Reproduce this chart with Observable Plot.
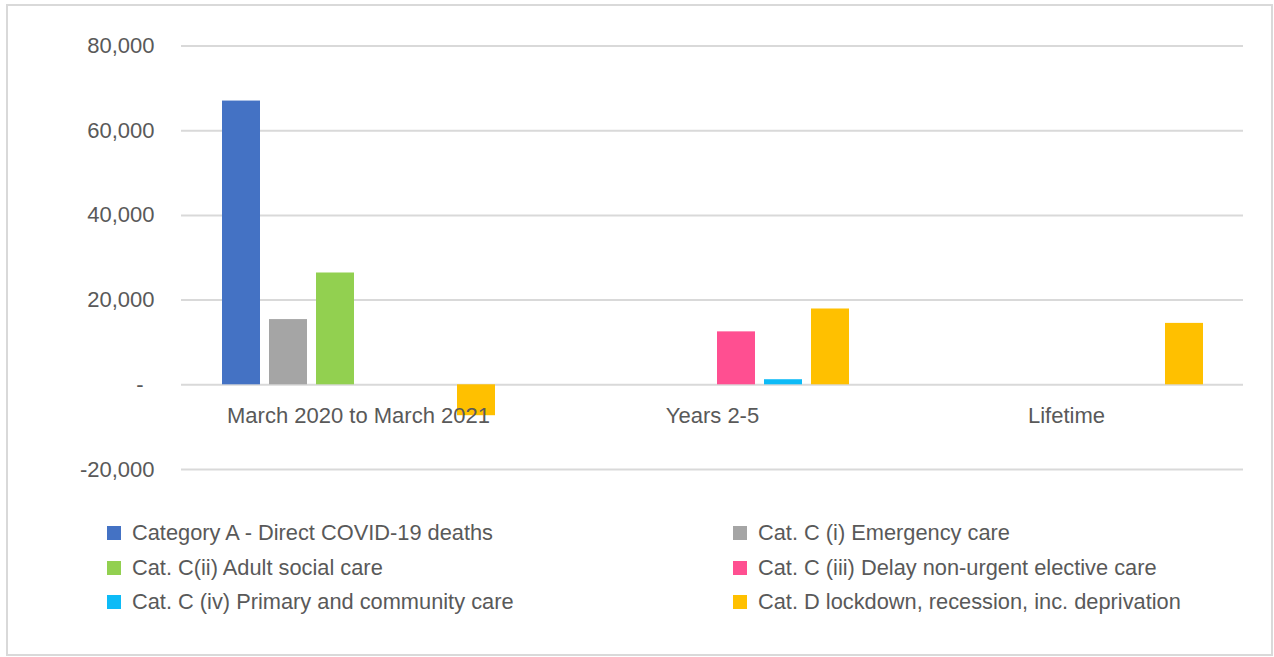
<!DOCTYPE html>
<html>
<head>
<meta charset="utf-8">
<script src="https://cdn.jsdelivr.net/npm/d3@7"></script>
<script src="https://cdn.jsdelivr.net/npm/@observablehq/plot@0.6"></script>
<style>
  html, body { margin: 0; padding: 0; background: #fff; }
  #wrap { position: relative; width: 1274px; height: 657px; overflow: hidden; font-family: "Liberation Sans", Arial, sans-serif; color: #595959; }
  #border { position: absolute; left: 6px; top: 4px; width: 1267px; height: 652px; border: 2px solid #d9d9d9; box-sizing: border-box; }
  #chart { position: absolute; left: 0; top: 0; }
  #legend { position: absolute; left: 0; top: 515.75px; width: 1274px; }
  .row { position: absolute; height: 34.5px; display: flex; align-items: center; font-size: 21.8px; white-space: nowrap; }
  .sw { width: 14px; height: 14px; margin-right: 11px; flex: none; }
</style>
</head>
<body>
<div id="wrap">
  <div id="border"></div>
  <div id="chart"></div>
  <div id="legend"></div>
</div>
<script>
// ---- data ----
const groups = ["March 2020 to March 2021", "Years 2-5", "Lifetime"];
const seriesNames = [
  "Category A - Direct COVID-19 deaths",
  "Cat. C (i) Emergency care",
  "Cat. C(ii) Adult social care",
  "Cat. C (iii) Delay non-urgent elective care",
  "Cat. C (iv) Primary and community care",
  "Cat. D lockdown, recession, inc. deprivation"
];
const seriesColors = ["#4472C4", "#A5A5A5", "#92D050", "#FF4F91", "#0DBBF7", "#FFC000"];
const catA     = [67000, null, null];
const catCi    = [15400, null, null];
const catCii   = [26400, null, null];
const catCiii  = [null, 12500, null];
const catCiv   = [null, 1200, null];
const catD     = [-7300, 17900, 14500];
const yTicks = [-20000, 0, 20000, 40000, 60000, 80000];

const seriesValues = [catA, catCi, catCii, catCiii, catCiv, catD];
const rows = seriesNames.flatMap((s, i) =>
  seriesValues[i].map((v, j) => ({group: groups[j], series: s, value: v}))
).filter(d => d.value != null);

const fmt = d => d === 0 ? "-\u2002" : d.toLocaleString("en-US").replace("\u2212", "-");

const chart = Plot.plot({
  width: 1274,
  height: 500,
  marginTop: 45.5,
  marginBottom: 31,
  marginLeft: 180,
  marginRight: 30,
  style: {fontFamily: "'Liberation Sans', Arial, sans-serif", fontSize: "22px", color: "#595959", background: "transparent", overflow: "visible"},
  fx: {domain: groups, padding: 0, axis: null},
  x: {domain: seriesNames, paddingInner: 0.2, paddingOuter: 0.857, axis: null},
  y: {domain: [-20000, 80000], axis: null},
  color: {domain: seriesNames, range: seriesColors},
  marks: [
    Plot.gridY(yTicks, {stroke: "#d9d9d9", strokeOpacity: 1, strokeWidth: 2}),
    Plot.barY(rows, {fx: "group", x: "series", y: "value", fill: "series"}),
    Plot.axisY(yTicks, {label: null, tickSize: 0, tickPadding: 27, tickFormat: fmt, fill: "#595959", fontSize: 22}),
    Plot.text(groups, {fx: d => d, y: () => 0, text: d => d, dy: 31, frameAnchor: "middle", fill: "#595959", fontSize: 22})
  ]
});
document.getElementById("chart").appendChild(chart);

// ---- legend ----
const legend = document.getElementById("legend");
const colLeft = [107, 733];
seriesNames.forEach((s, i) => {
  const row = document.createElement("div");
  row.className = "row";
  row.style.left = colLeft[i % 2] + "px";
  row.style.top = (Math.floor(i / 2) * 34.5) + "px";
  const sw = document.createElement("span");
  sw.className = "sw";
  sw.style.background = seriesColors[i];
  const label = document.createElement("span");
  label.textContent = s;
  row.appendChild(sw);
  row.appendChild(label);
  legend.appendChild(row);
});
</script>
</body>
</html>
